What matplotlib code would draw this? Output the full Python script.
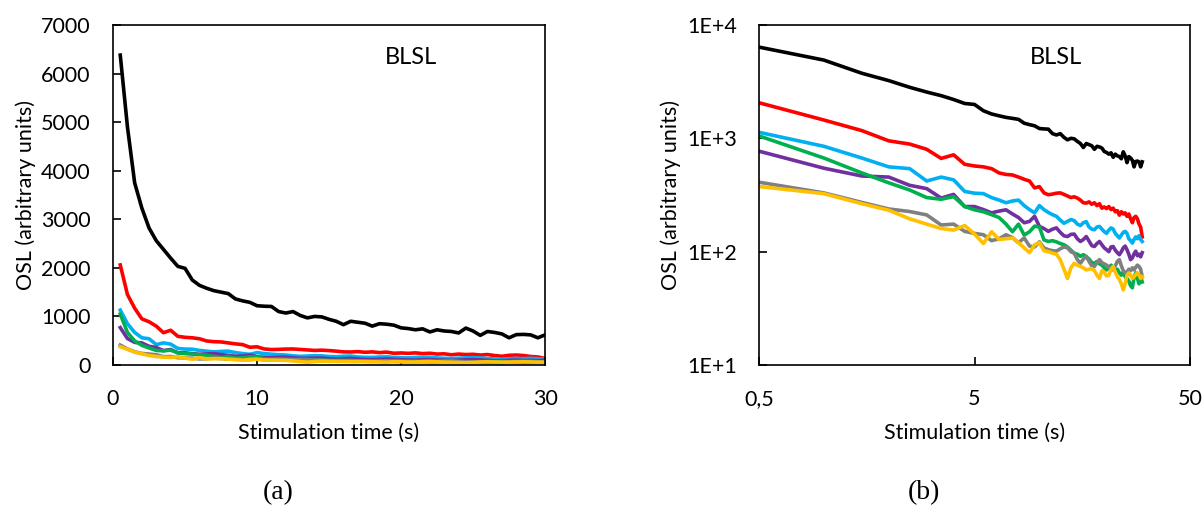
#!/usr/bin/env python3
"""
BLSL decay curves, linear (a) and log-log (b) views.
"""

import numpy as np
import matplotlib
matplotlib.use('Agg')
import matplotlib.pyplot as plt
from matplotlib.ticker import FixedLocator, NullLocator

# stimulation time, 0.5 s channels
time_s = np.arange(1, 61) * 0.5

black = [6380, 4900, 3750, 3230, 2820, 2560, 2380, 2200, 2030, 1990,
         1750, 1640, 1580, 1530, 1500, 1470, 1360, 1320, 1290, 1220,
         1210, 1205, 1100, 1070, 1100, 1020, 970, 1000, 990, 940,
         900, 830, 900, 880, 860, 800, 850, 840, 820, 765,
         750, 725, 745, 680, 725, 700, 690, 660, 760, 700,
         610, 690, 670, 640, 560, 625, 630, 620, 560, 620]

red = [2060, 1450, 1170, 950, 890, 800, 665, 715, 590, 570,
       560, 540, 495, 480, 475, 455, 435, 420, 365, 375,
       330, 318, 322, 328, 330, 320, 310, 300, 305, 297,
       285, 270, 268, 275, 262, 270, 255, 265, 242, 248,
       240, 250, 235, 242, 225, 230, 210, 225, 215, 220,
       205, 215, 195, 180, 200, 205, 195, 175, 165, 135]

blue = [1130, 850, 670, 560, 540, 420, 455, 430, 340, 328,
        325, 300, 285, 270, 280, 285, 255, 235, 220, 255,
        235, 222, 212, 205, 190, 178, 185, 192, 188, 175,
        170, 180, 184, 165, 158, 156, 165, 167, 158, 150,
        145, 155, 162, 158, 145, 138, 132, 140, 148, 151,
        145, 130, 125, 119, 128, 135, 130, 138, 128, 123]

purple = [770, 545, 465, 455, 385, 360, 297, 320, 250, 250,
          235, 220, 228, 234, 215, 200, 180, 185, 205, 167,
          160, 151, 158, 162, 148, 138, 136, 142, 143, 130,
          123, 128, 136, 124, 113, 111, 118, 123, 115, 108,
          104, 100, 110, 111, 103, 98, 94, 100, 108, 112,
          104, 95, 85, 88, 96, 101, 92, 95, 90, 98]

green = [1050, 670, 495, 405, 350, 300, 290, 306, 250, 234,
         225, 212, 200, 175, 150, 175, 140, 150, 168, 165,
         127, 123, 125, 122, 118, 115, 110, 103, 97, 95,
         91, 94, 90, 86, 80, 79, 82, 78, 76, 72,
         69, 72, 76, 73, 68, 70, 65, 62, 66, 60,
         58, 55, 50, 48, 60, 65, 58, 52, 60, 54]

gray = [410, 330, 272, 238, 226, 211, 172, 175, 151, 145,
        141, 125, 130, 141, 133, 120, 132, 112, 110, 122,
        108, 104, 102, 101, 106, 110, 108, 100, 97, 85,
        79, 86, 91, 82, 75, 74, 80, 85, 80, 78,
        76, 73, 70, 69, 75, 82, 85, 75, 68, 65,
        66, 70, 68, 72, 69, 73, 76, 74, 70, 60]

yellow = [376, 325, 265, 232, 195, 175, 160, 155, 170, 143,
          118, 150, 128, 130, 132, 120, 108, 98, 115, 120,
          102, 100, 97, 95, 85, 70, 58, 72, 79, 76,
          74, 72, 69, 70, 71, 68, 62, 58, 68, 66,
          61, 62, 70, 74, 66, 60, 57, 52, 46, 52,
          62, 65, 62, 58, 60, 63, 65, 62, 58, 60]

series = [(black, '#000000'), (red, '#FF0000'), (blue, '#00B0F0'),
          (purple, '#7030A0'), (green, '#00B050'), (gray, '#808080'),
          (yellow, '#FFC000')]

lin_xticks = [0, 10, 20, 30]
lin_yticks = [0, 1000, 2000, 3000, 4000, 5000, 6000, 7000]
log_xticks = [0.5, 5, 50]
log_xlabels = ['0,5', '5', '50']
log_yticks = [10, 100, 1000, 10000]
log_ylabels = ['1E+1', '1E+2', '1E+3', '1E+4']

plt.rcParams['font.family'] = ['Lato', 'DejaVu Sans']

fig = plt.figure(figsize=(12.04, 5.13), dpi=100)
ax1 = fig.add_axes([0.0939, 0.2885, 0.3588, 0.6628])
ax2 = fig.add_axes([0.6304, 0.2885, 0.3580, 0.6628])

for vals, col in series:
    ax1.plot(time_s, vals, color=col, lw=2.6, solid_joinstyle='round')
    ax2.plot(time_s, vals, color=col, lw=2.6, solid_joinstyle='round')

# (a) linear
ax1.set_xlim(0, 30)
ax1.set_ylim(0, 7000)
ax1.set_xticks(lin_xticks)
ax1.set_yticks(lin_yticks)

# (b) log-log
ax2.set_xscale('log')
ax2.set_yscale('log')
ax2.set_xlim(0.5, 50)
ax2.set_ylim(10, 10000)
ax2.xaxis.set_major_locator(FixedLocator(log_xticks))
ax2.set_xticklabels(log_xlabels)
ax2.yaxis.set_major_locator(FixedLocator(log_yticks))
ax2.set_yticklabels(log_ylabels)
ax2.xaxis.set_minor_locator(NullLocator())
ax2.yaxis.set_minor_locator(NullLocator())

for ax in (ax1, ax2):
    for sp in ax.spines.values():
        sp.set_linewidth(1.2)
    ax.tick_params(direction='in', length=6, width=1.2, labelsize=15.5)
    ax.tick_params(axis='x', pad=17)
    ax.tick_params(axis='y', pad=16)
    ax.set_xlabel('Stimulation time (s)', fontsize=15.5, labelpad=10)
    ax.set_ylabel('OSL (arbitrary units)', fontsize=15.5, labelpad=4)
    ax.text(0.69, 0.905, 'BLSL', transform=ax.transAxes, fontsize=17,
            ha='center', va='center')

fig.text(0.231, 0.028, '(a)', fontsize=20, family='Liberation Serif', ha='center')
fig.text(0.767, 0.028, '(b)', fontsize=20, family='Liberation Serif', ha='center')

fig.savefig('out.png', dpi=100)
